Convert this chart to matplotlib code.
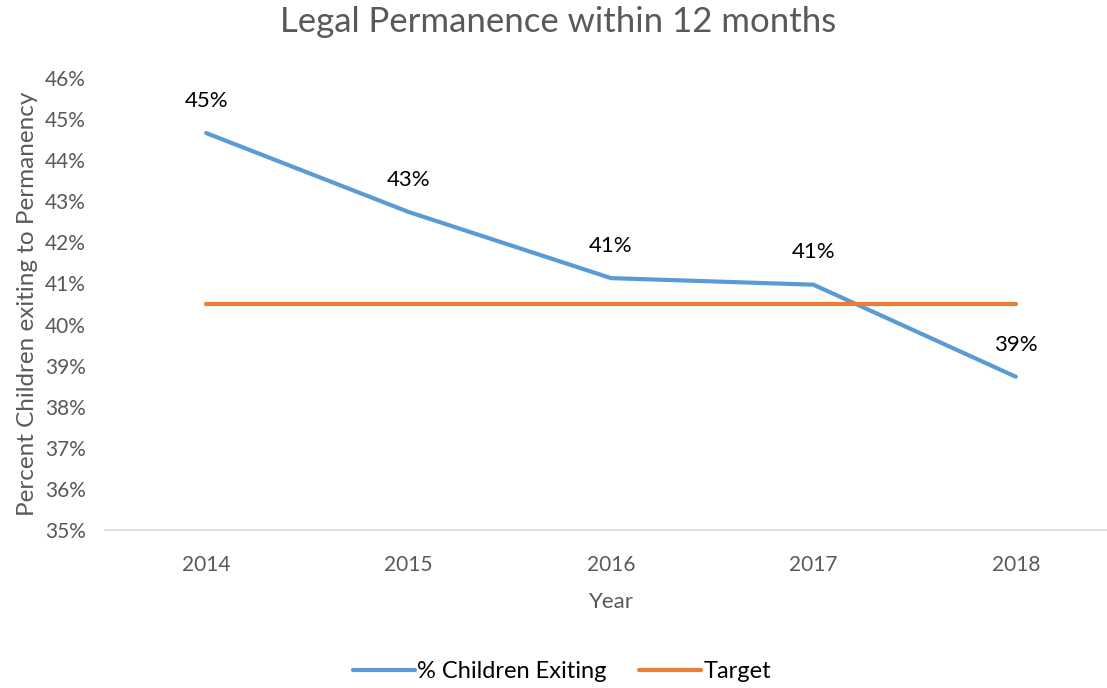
import matplotlib.pyplot as plt
from matplotlib.ticker import FuncFormatter

years = ["2014", "2015", "2016", "2017", "2018"]
pct_exiting = [44.66, 42.74, 41.13, 40.97, 38.73]
target = [40.5, 40.5, 40.5, 40.5, 40.5]
labels = ["45%", "43%", "41%", "41%", "39%"]

plt.rcParams["font.family"] = ["Lato", "DejaVu Sans"]
gray = "#595959"

fig = plt.figure(figsize=(11.07, 6.88), dpi=100)
ax = fig.add_axes([105 / 1107, 1 - 530 / 688, 1012 / 1107, 452 / 688])

x = list(range(len(years)))
ax.plot(x, pct_exiting, color="#5B9BD5", lw=3, solid_capstyle="round",
        label="% Children Exiting")
ax.plot(x, target, color="#ED7D31", lw=3, solid_capstyle="round", label="Target")

for xi, v, t in zip(x, pct_exiting, labels):
    ax.annotate(t, (xi, v), xytext=(0, 16), textcoords="offset points",
                ha="center", va="bottom", fontsize=16, color="black")

ax.set_xlim(-0.5, len(years) - 0.5)
ax.set_ylim(35, 46)
ax.set_yticks(range(35, 47))
ax.yaxis.set_major_formatter(FuncFormatter(lambda v, p: f"{v:.0f}%"))
ax.set_xticks(x)
ax.set_xticklabels(years)
ax.tick_params(length=0, labelsize=15, colors=gray)
ax.tick_params(axis="y", pad=14)
ax.tick_params(axis="x", pad=18)
for s in ["top", "right", "left"]:
    ax.spines[s].set_visible(False)
ax.spines["bottom"].set_color("#D9D9D9")
ax.spines["bottom"].set_linewidth(1.2)

ax.set_xlabel("Year", fontsize=16, color=gray, labelpad=12)
ax.set_ylabel("Percent Children exiting to Permanency", fontsize=17.5, color=gray,
              labelpad=5)
fig.text(558 / 1107, 1 - 22 / 688, "Legal Permanence within 12 months",
         ha="center", va="center", fontsize=25, color=gray)

fig.legend(loc="center", bbox_to_anchor=(562 / 1107, 1 - 672 / 688), ncol=2,
           frameon=False, fontsize=17, handlelength=2.6, handletextpad=0.1,
           columnspacing=1.4)

fig.savefig("out.png", dpi=100)
